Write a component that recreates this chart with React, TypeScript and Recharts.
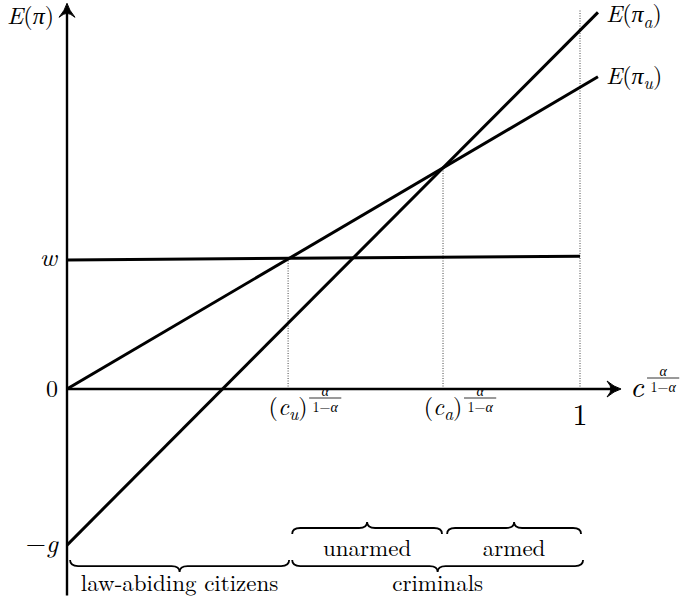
import React from 'react'
import { LineChart, Line, XAxis, YAxis, ReferenceLine, ReferenceDot } from 'recharts'

// payoff lines, in units where w = 1
const wageLine = [
  { x: 0, y: 1.0 },
  { x: 1, y: 1.03 },
]
const unarmedLine = [
  { x: 0, y: 0 },
  { x: 1.035, y: 2.42 },
]
const armedLine = [
  { x: 0, y: -1.21 },
  { x: 1.035, y: 2.92 },
]

// thresholds on the horizontal axis and the payoff at each one
const thresholdX = [0.431, 0.733, 1]
const thresholdTop = [1.013, 1.714, 2.94]

// y tick values
const yTicks = [1, 0, -1.21]
const yTickNames = ['w', '0', '−g']

// braces under the axis
const groupNames = ['law-abiding citizens', 'criminals']
const groupRanges = [
  [0.006, 0.433],
  [0.439, 1.006],
]
const typeNames = ['unarmed', 'armed']
const typeRanges = [
  [0.439, 0.731],
  [0.741, 1.002],
]

const SERIF = '"Latin Modern Roman", "Liberation Serif", serif'
const fontStyle = { fontFamily: SERIF }

type Seg = { t: string; it?: boolean; sub?: boolean }

const MathText = ({ x, y, segs, size, anchor = 'start' }: { x: number; y: number; segs: Seg[]; size: number; anchor?: string }) => {
  let prevSub = false
  return (
    <text x={x} y={y} style={fontStyle} fontSize={size} textAnchor={anchor as any} fill="#000">
      {segs.map((s, i) => {
        const sub = !!s.sub
        const dy = sub && !prevSub ? size * 0.22 : !sub && prevSub ? -size * 0.22 : 0
        prevSub = sub
        return (
          <tspan key={i} dy={dy} fontStyle={s.it ? 'italic' : 'normal'} fontSize={sub ? size * 0.72 : size}>
            {s.t}
          </tspan>
        )
      })}
    </text>
  )
}

// small alpha / (1 - alpha) exponent, x = left edge, y = fraction bar
const Frac = ({ x, y, size }: { x: number; y: number; size: number }) => {
  const w = size * 2.3
  return (
    <g>
      <text x={x + w / 2} y={y - 2.5} style={fontStyle} fontSize={size} fontStyle="italic" textAnchor="middle">
        α
      </text>
      <line x1={x} x2={x + w} y1={y} y2={y} stroke="#000" strokeWidth={0.8} />
      <text x={x + w / 2} y={y + size * 0.98} style={fontStyle} fontSize={size} textAnchor="middle">
        1−<tspan fontStyle="italic">α</tspan>
      </text>
    </g>
  )
}

// axis line with a LaTeX-ish arrow head at its far end
const arrowShape = (p: any) => {
  const { x1, y1, x2, y2 } = p
  const ang = (Math.atan2(y2 - y1, x2 - x1) * 180) / Math.PI
  const len = Math.hypot(x2 - x1, y2 - y1)
  return (
    <g transform={`translate(${x1},${y1}) rotate(${ang})`}>
      <line x1={0} y1={0} x2={len - 3} y2={0} stroke="#000" strokeWidth={2.4} />
      <path
        d={`M${len},0 Q${len - 7},-2 ${len - 14},-8 Q${len - 10},-3 ${len - 10},0 Q${len - 10},3 ${len - 14},8 Q${len - 7},2 ${len},0 Z`}
        fill="#000"
        stroke="#000"
        strokeWidth={1}
      />
    </g>
  )
}

const braceShape = (dir: number, label: string, gap: number) => (p: any) => {
  const { x1, x2, y1 } = p
  const l = Math.min(x1, x2)
  const r = Math.max(x1, x2)
  const m = (l + r) / 2
  const q = 6 * dir
  const k = 8
  const d = `M${l},${y1} Q${l},${y1 + q} ${l + k},${y1 + q} L${m - k},${y1 + q} Q${m},${y1 + q} ${m},${y1 + 2 * q} Q${m},${y1 + q} ${m + k},${y1 + q} L${r - k},${y1 + q} Q${r},${y1 + q} ${r},${y1}`
  return (
    <g>
      <path d={d} fill="none" stroke="#000" strokeWidth={1.8} />
      <text x={m} y={y1 + gap} style={fontStyle} fontSize={23} textAnchor="middle" fill="#000">
        {label}
      </text>
    </g>
  )
}

const at = (render: (x: number, y: number) => React.ReactElement) => (props: any) => {
  const vb = props.viewBox || {}
  return render(vb.x + (vb.width || 0) / 2, vb.y + (vb.height || 0) / 2)
}

const renderYTick = (name: string) =>
  at((x, y) => {
    if (name === 'w') return <MathText x={x - 10} y={y + 6} size={26} anchor="end" segs={[{ t: 'w', it: true }]} />
    if (name === '0') return <MathText x={x - 9} y={y + 8} size={24} anchor="end" segs={[{ t: '0' }]} />
    return <MathText x={x - 9} y={y + 7} size={26} anchor="end" segs={[{ t: '−' }, { t: 'g', it: true }]} />
  })

const renderXTick = (i: number) =>
  at((x, y) => {
    if (i === 2) return <MathText x={x} y={y + 36} size={30} anchor="middle" segs={[{ t: '1' }]} />
    const s = i === 0 ? 'u' : 'a'
    return (
      <g>
        <MathText x={x} y={y + 26} size={24} anchor="middle" segs={[{ t: '(' }, { t: 'c', it: true }, { t: s, it: true, sub: true }, { t: ')' }]} />
        <Frac x={x + 21} y={y + 9} size={14} />
      </g>
    )
  })

export default function App() {
  return (
    <div style={{ position: 'absolute', left: 0, top: 0, background: '#fff', fontFamily: SERIF }}>
      <LineChart width={682} height={604} margin={{ top: 2, right: 50.7, bottom: 8.6, left: 67 }}>
        <XAxis hide type="number" dataKey="x" domain={[0, 1.1]} allowDataOverflow />
        <YAxis hide type="number" dataKey="y" domain={[-1.6, 3]} allowDataOverflow />

        {thresholdX.map((x, i) => (
          <ReferenceLine
            key={`v-${i}`}
            segment={[
              { x, y: 0 },
              { x, y: thresholdTop[i] },
            ]}
            stroke="#444"
            strokeWidth={1}
            strokeDasharray="1 1.5"
          />
        ))}

        <ReferenceLine
          segment={[
            { x: 0, y: 0 },
            { x: 1.08, y: 0 },
          ]}
          shape={arrowShape}
        />
        <ReferenceLine
          segment={[
            { x: 0, y: -1.6 },
            { x: 0, y: 2.99 },
          ]}
          shape={arrowShape}
        />

        <Line data={wageLine} dataKey="y" type="linear" stroke="#000" strokeWidth={3} dot={false} isAnimationActive={false} />
        <Line data={unarmedLine} dataKey="y" type="linear" stroke="#000" strokeWidth={3} dot={false} isAnimationActive={false} />
        <Line data={armedLine} dataKey="y" type="linear" stroke="#000" strokeWidth={3} dot={false} isAnimationActive={false} />

        {groupNames.map((name, i) => (
          <ReferenceLine
            key={`g-${i}`}
            segment={[
              { x: groupRanges[i][0], y: -1.326 },
              { x: groupRanges[i][1], y: -1.326 },
            ]}
            shape={braceShape(1, name, 31)}
          />
        ))}
        {typeNames.map((name, i) => (
          <ReferenceLine
            key={`t-${i}`}
            segment={[
              { x: typeRanges[i][0], y: -1.124 },
              { x: typeRanges[i][1], y: -1.124 },
            ]}
            shape={braceShape(-1, name, 22)}
          />
        ))}

        {yTicks.map((v, i) => (
          <ReferenceDot key={`yt-${i}`} x={0} y={v} r={0} fill="none" stroke="none" label={{ content: renderYTick(yTickNames[i]) }} />
        ))}
        {thresholdX.map((x, i) => (
          <ReferenceDot key={`xt-${i}`} x={x} y={0} r={0} fill="none" stroke="none" label={{ content: renderXTick(i) }} />
        ))}

        <ReferenceDot
          x={0}
          y={2.9}
          r={0}
          fill="none"
          stroke="none"
          label={{
            content: at((x, y) => (
              <MathText x={x - 60} y={y + 9} size={24} segs={[{ t: 'E', it: true }, { t: '(' }, { t: 'π', it: true }, { t: ')' }]} />
            )),
          }}
        />
        <ReferenceDot
          x={1.08}
          y={0}
          r={0}
          fill="none"
          stroke="none"
          label={{
            content: at((x, y) => (
              <g>
                <MathText x={x + 9} y={y + 8} size={30} segs={[{ t: 'c', it: true }]} />
                <Frac x={x + 26} y={y - 11} size={14} />
              </g>
            )),
          }}
        />
        <ReferenceDot
          x={armedLine[1].x}
          y={armedLine[1].y}
          r={0}
          fill="none"
          stroke="none"
          label={{
            content: at((x, y) => (
              <MathText x={x + 8} y={y + 10} size={24} segs={[{ t: 'E', it: true }, { t: '(' }, { t: 'π', it: true }, { t: 'a', it: true, sub: true }, { t: ')' }]} />
            )),
          }}
        />
        <ReferenceDot
          x={unarmedLine[1].x}
          y={unarmedLine[1].y}
          r={0}
          fill="none"
          stroke="none"
          label={{
            content: at((x, y) => (
              <MathText x={x + 8} y={y + 7} size={24} segs={[{ t: 'E', it: true }, { t: '(' }, { t: 'π', it: true }, { t: 'u', it: true, sub: true }, { t: ')' }]} />
            )),
          }}
        />
      </LineChart>
    </div>
  )
}
